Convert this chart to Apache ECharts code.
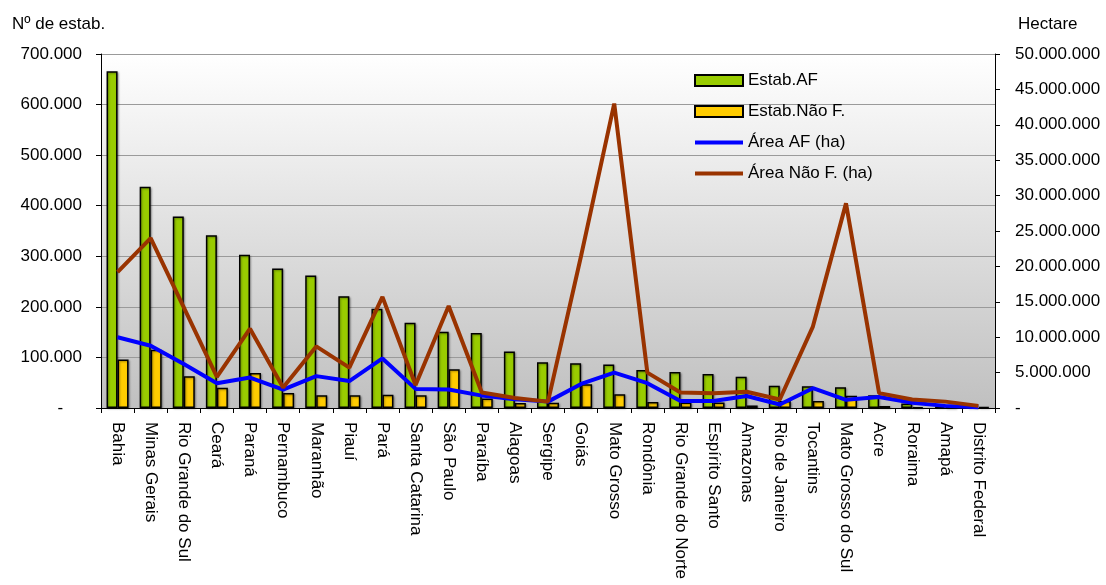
<!DOCTYPE html>
<html>
<head>
<meta charset="utf-8">
<script src="https://cdn.jsdelivr.net/npm/echarts@6/dist/echarts.min.js"></script>
<style>
  html, body { margin: 0; padding: 0; background: #ffffff; }
  #chart { width: 1106px; height: 585px; }
</style>
</head>
<body>
<div id="chart"></div>
<script>
// Estados brasileiros: estabelecimentos e área, agricultura familiar x não familiar
const estados = [
  'Bahia', 'Minas Gerais', 'Rio Grande do Sul', 'Ceará', 'Paraná', 'Pernambuco',
  'Maranhão', 'Piauí', 'Pará', 'Santa Catarina', 'São Paulo', 'Paraíba', 'Alagoas',
  'Sergipe', 'Goiás', 'Mato Grosso', 'Rondônia', 'Rio Grande do Norte', 'Espírito Santo',
  'Amazonas', 'Rio de Janeiro', 'Tocantins', 'Mato Grosso do Sul', 'Acre', 'Roraima',
  'Amapá', 'Distrito Federal'
];

// Nº de estabelecimentos (eixo esquerdo)
const estabAF = [
  665831, 437415, 378546, 341510, 302907, 275740, 262089, 220757, 196150, 168544,
  151015, 148077, 111751, 90330, 88436, 86167, 75251, 71210, 67403, 61843,
  44145, 42899, 41104, 25187, 8908, 2863, 1824
];
const estabNaoF = [
  95700, 115000, 63000, 40000, 69000, 29500, 25000, 25000, 26000, 25000,
  76500, 19000, 10000, 10500, 47000, 27000, 12000, 11000, 11000, 5000,
  14000, 14000, 24000, 4000, 1400, 600, 2300
];

// Área em hectares (eixo direito)
const areaAF = [
  10000000, 8800000, 6200000, 3500000, 4300000, 2600000, 4500000, 3800000, 7000000, 2700000,
  2600000, 1750000, 1250000, 900000, 3400000, 5000000, 3500000, 1000000, 1000000, 1700000,
  500000, 2800000, 1150000, 1550000, 750000, 300000, 100000
];
const areaNaoF = [
  19200000, 24000000, 14200000, 4400000, 11200000, 2900000, 8700000, 5700000, 15700000, 3250000,
  14400000, 2200000, 1400000, 900000, 21500000, 43000000, 5000000, 2200000, 2100000, 2300000,
  1200000, 11500000, 28900000, 2100000, 1200000, 900000, 300000
];

// Eixo esquerdo: 0 a 700.000; eixo direito: 0 a 50.000.000
const leftTicks = { min: 0, max: 700000, interval: 100000 };
const rightTicks = { min: 0, max: 50000000, interval: 5000000 };

const FONT = '"Liberation Sans", Arial, sans-serif';

function fmtPt(v) {
  return String(Math.round(v)).replace(/\B(?=(\d{3})+(?!\d))/g, '.');
}

const chart = echarts.init(document.getElementById('chart'), null, { renderer: 'canvas' });

const barStyle = (color) => ({
  color: color,
  borderColor: '#000000',
  borderWidth: 1.5,
  shadowColor: 'rgba(0,0,0,0.35)',
  shadowBlur: 2,
  shadowOffsetX: 1,
  shadowOffsetY: 1
});

// legend entries for the lines: plain stroke, no marker dot
const hiddenMarker = { color: 'rgba(0,0,0,0)', borderColor: 'rgba(0,0,0,0)', borderWidth: 0, opacity: 0 };

chart.setOption({
  animation: false,
  backgroundColor: '#ffffff',
  textStyle: { fontFamily: FONT, color: '#000000' },
  graphic: [
    {
      type: 'text',
      left: 12,
      top: 16,
      style: { text: 'Nº de estab.', font: '17px ' + FONT, fill: '#000000' }
    }
  ],
  grid: {
    left: 101, right: 111, top: 54, bottom: 177,
    show: true,
    borderWidth: 0,
    backgroundColor: new echarts.graphic.LinearGradient(0, 0, 0, 1, [
      { offset: 0, color: '#ffffff' },
      { offset: 1, color: '#c0c0c0' }
    ])
  },
  legend: {
    orient: 'vertical',
    left: 693,
    top: 72,
    padding: 0,
    itemWidth: 48,
    itemHeight: 11,
    itemGap: 14,
    textStyle: { fontFamily: FONT, fontSize: 17, color: '#000000' },
    data: [
      { name: 'Estab.AF', icon: 'rect' },
      { name: 'Estab.Não F.', icon: 'rect' },
      { name: 'Área AF (ha)', itemStyle: hiddenMarker, lineStyle: { width: 4 } },
      { name: 'Área Não F. (ha)', itemStyle: hiddenMarker, lineStyle: { width: 4 } }
    ]
  },
  xAxis: {
    type: 'category',
    data: estados,
    boundaryGap: true,
    axisLine: { lineStyle: { color: '#000000', width: 1 } },
    axisTick: { show: true, length: 5, alignWithLabel: false, lineStyle: { color: '#000000' } },
    axisLabel: {
      interval: 0,
      rotate: -90,
      margin: 14,
      fontFamily: FONT,
      fontSize: 17,
      color: '#000000'
    },
    splitLine: { show: false }
  },
  yAxis: [
    {
      type: 'value',
      position: 'left',
      min: leftTicks.min, max: leftTicks.max, interval: leftTicks.interval,
      axisLine: { show: true, lineStyle: { color: '#000000', width: 1 } },
      axisTick: { show: true, length: 5, lineStyle: { color: '#000000' } },
      axisLabel: {
        margin: 19,
        fontFamily: FONT,
        fontSize: 17,
        color: '#000000',
        formatter: (v) => (v === 0 ? '-    ' : fmtPt(v))
      },
      splitLine: { show: true, lineStyle: { color: '#9a9a9a', width: 1 } }
    },
    {
      type: 'value',
      position: 'right',
      min: rightTicks.min, max: rightTicks.max, interval: rightTicks.interval,
      name: 'Hectare',
      nameLocation: 'end',
      nameGap: 21,
      nameTextStyle: { fontFamily: FONT, fontSize: 17, color: '#000000', align: 'left', padding: [0, 0, 0, 23] },
      axisLine: { show: true, lineStyle: { color: '#000000', width: 1 } },
      axisTick: { show: true, length: 5, lineStyle: { color: '#000000' } },
      axisLabel: {
        margin: 20,
        fontFamily: FONT,
        fontSize: 17,
        color: '#000000',
        formatter: (v) => (v === 0 ? '-' : fmtPt(v))
      },
      splitLine: { show: false }
    }
  ],
  series: [
    {
      name: 'Estab.AF',
      type: 'bar',
      yAxisIndex: 0,
      data: estabAF,
      barWidth: 11,
      barGap: '0%',
      itemStyle: barStyle('#99cc00')
    },
    {
      name: 'Estab.Não F.',
      type: 'bar',
      yAxisIndex: 0,
      data: estabNaoF,
      barWidth: 11,
      barGap: '0%',
      itemStyle: barStyle('#ffcc00')
    },
    {
      name: 'Área AF (ha)',
      type: 'line',
      yAxisIndex: 1,
      data: areaAF,
      symbol: 'none',
      lineStyle: { color: '#0000ff', width: 4 },
      itemStyle: { color: '#0000ff' }
    },
    {
      name: 'Área Não F. (ha)',
      type: 'line',
      yAxisIndex: 1,
      data: areaNaoF,
      symbol: 'none',
      lineStyle: { color: '#993300', width: 4 },
      itemStyle: { color: '#993300' }
    }
  ]
});
</script>
</body>
</html>
